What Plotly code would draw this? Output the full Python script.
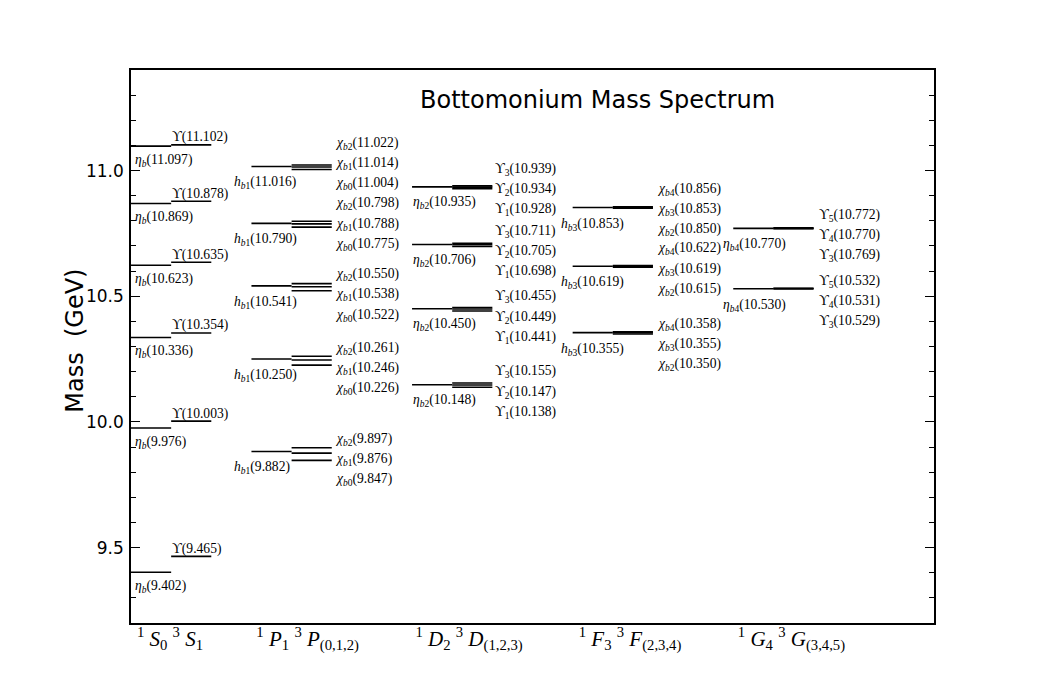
import plotly.graph_objects as go

# ---------------- data (GeV) ----------------
S_singlet = [9.402, 9.976, 10.336, 10.623, 10.869, 11.097]
S_triplet = [9.465, 10.003, 10.354, 10.635, 10.878, 11.102]

P_singlet = [9.882, 10.250, 10.541, 10.790, 11.016]
P_triplet = [[9.847, 9.876, 9.897], [10.226, 10.246, 10.261], [10.522, 10.538, 10.550],
             [10.775, 10.788, 10.798], [11.004, 11.014, 11.022]]          # J = 0,1,2

D_singlet = [10.148, 10.450, 10.706, 10.935]
D_triplet = [[10.138, 10.147, 10.155], [10.441, 10.449, 10.455],
             [10.698, 10.705, 10.711], [10.928, 10.934, 10.939]]          # J = 1,2,3

F_singlet = [10.355, 10.619, 10.853]
F_triplet = [[10.350, 10.355, 10.358], [10.615, 10.619, 10.622],
             [10.850, 10.853, 10.856]]                                    # J = 2,3,4

G_singlet = [10.530, 10.770]
G_triplet = [[10.529, 10.531, 10.532], [10.769, 10.770, 10.772]]          # J = 3,4,5

tick_labels = [
    "<sup>1</sup> <i>S</i><sub>0</sub> <sup>3</sup> <i>S</i><sub>1</sub>",
    "<sup>1</sup> <i>P</i><sub>1</sub> <sup>3</sup> <i>P</i><sub>(0,1,2)</sub>",
    "<sup>1</sup> <i>D</i><sub>2</sub> <sup>3</sup> <i>D</i><sub>(1,2,3)</sub>",
    "<sup>1</sup> <i>F</i><sub>3</sub> <sup>3</sup> <i>F</i><sub>(2,3,4)</sub>",
    "<sup>1</sup> <i>G</i><sub>4</sub> <sup>3</sup> <i>G</i><sub>(3,4,5)</sub>",
]

# ---------------- layout constants ----------------
col_start = [0, 3, 7, 11, 15]
tick_pos = [0.97, 4.4, 8.42, 12.43, 16.45]
singlet_label_x = [0.05, 2.52, 6.97, 10.66, 14.69]
triplet_label_x = [0.97, 5.03, 9.02, 13.05, 17.09]
singlet_label_dy = [-0.056, -0.065, -0.062, -0.066, -0.066]
triplet_step = 0.08
triplet_shift = {
    "P": [-0.024, -0.032, -0.033, -0.001, 0.013],
    "D": [-0.028, -0.032, -0.028, -0.010],
    "F": [-0.048, -0.011, -0.008],
    "G": [-0.051, -0.029],
}

LABEL_FONT = dict(family="Liberation Serif", size=13.6, color="black")


def eta(sub):
    return f"<i>η</i><sub><i>b</i>{sub}</sub>"


def hb(sub):
    return f"<i>h</i><sub><i>b</i>{sub}</sub>"


def chi(j):
    return f"<i>χ</i><sub><i>b</i>{j}</sub>"


def ups(j):
    return f"ϒ<sub>{j}</sub>" if j != "" else "ϒ"


line_x, line_y = [], []
annotations = []


def add_line(x0, x1, m):
    line_x.extend([x0, x1, None])
    line_y.extend([m, m, None])


def add_label(x, y, text):
    annotations.append(dict(x=x, y=y, xref="x", yref="y", text=text, showarrow=False,
                            xanchor="left", yanchor="middle", font=LABEL_FONT))


# S wave
c = col_start[0]
for m in S_singlet:
    add_line(c, c + 1, m)
    add_label(singlet_label_x[0], m + singlet_label_dy[0], f"{eta('')}({m:.3f})")
for m in S_triplet:
    add_line(c + 1, c + 2, m)
    add_label(triplet_label_x[0], m + 0.03, f"{ups('')}({m:.3f})")

groups = [
    ("P", 1, P_singlet, P_triplet, hb("1"), chi, [0, 1, 2]),
    ("D", 2, D_singlet, D_triplet, eta("2"), ups, [1, 2, 3]),
    ("F", 3, F_singlet, F_triplet, hb("3"), chi, [2, 3, 4]),
    ("G", 4, G_singlet, G_triplet, eta("4"), ups, [3, 4, 5]),
]

for key, ci, singlet, triplet, sname, tname, js in groups:
    c = col_start[ci]
    for m in singlet:
        add_line(c, c + 1, m)
        add_label(singlet_label_x[ci], m + singlet_label_dy[ci], f"{sname}({m:.3f})")
    for gi, trip in enumerate(triplet):
        mid = trip[1] + triplet_shift[key][gi]
        for k, (m, j) in enumerate(zip(trip, js)):
            add_line(c + 1, c + 2, m)
            add_label(triplet_label_x[ci], mid + (k - 1) * triplet_step, f"{tname(j)}({m:.3f})")

fig = go.Figure()
fig.add_trace(go.Scatter(x=line_x, y=line_y, mode="lines",
                         line=dict(color="black", width=1.6), hoverinfo="skip",
                         showlegend=False))

annotations.append(dict(x=11.62, y=11.28, xref="x", yref="y", text="Bottomonium Mass Spectrum",
                        showarrow=False, xanchor="center", yanchor="middle",
                        font=dict(family="DejaVu Sans", size=24, color="black")))
annotations.append(dict(x=-0.07, y=0.51, xref="paper", yref="paper", text="Mass  (GeV)",
                        showarrow=False, textangle=-90, xanchor="center", yanchor="middle",
                        font=dict(family="DejaVu Sans", size=24, color="black")))

fig.update_layout(
    width=1038, height=692, autosize=False,
    margin=dict(l=123, r=112, t=62, b=77),
    paper_bgcolor="white", plot_bgcolor="white",
    showlegend=False,
    annotations=annotations,
)
fig.update_xaxes(range=[0, 20], showgrid=False, zeroline=False,
                 showline=True, linecolor="black", linewidth=1.5, mirror=True,
                 tickmode="array", tickvals=tick_pos, ticktext=tick_labels, ticks="",
                 ticklen=0, ticklabelstandoff=-4,
                 tickfont=dict(family="Liberation Serif", size=21, color="black"))
fig.update_yaxes(range=[9.2, 11.4], showgrid=False, zeroline=False,
                 showline=True, linecolor="black", linewidth=1.5, mirror="ticks",
                 tickmode="linear", tick0=9.5, dtick=0.5, tickformat=".1f",
                 ticks="inside", ticklen=9, tickwidth=1.2, tickcolor="black",
                 minor=dict(dtick=0.1, tick0=9.2, ticks="inside", ticklen=5, tickwidth=1.2, tickcolor="black"),
                 ticklabelstandoff=2,
                 tickfont=dict(family="DejaVu Sans", size=17, color="black"))

fig.write_html("out.html")
